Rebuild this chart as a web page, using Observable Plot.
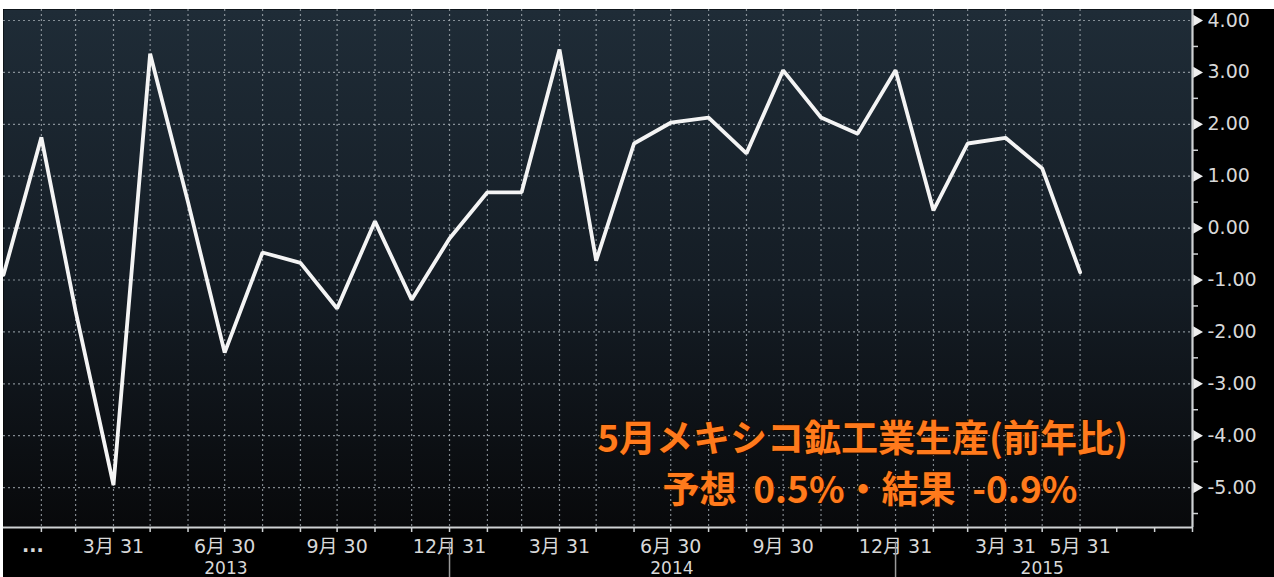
<!DOCTYPE html>
<html><head><meta charset="utf-8">
<script src="https://cdn.jsdelivr.net/npm/d3@7"></script>
<script src="https://cdn.jsdelivr.net/npm/@observablehq/plot@0.6"></script>
<style>
body{margin:0;background:#fff;width:1274px;height:577px;overflow:hidden;position:relative}
#wrap{position:absolute;left:3px;top:9px;width:1271px;height:568px;background:#000}
</style></head><body><div id="wrap"></div>
<script>
const months = ["2012-12-31","2013-01-31","2013-02-28","2013-03-31","2013-04-30","2013-05-31","2013-06-30","2013-07-31","2013-08-31","2013-09-30","2013-10-31","2013-11-30","2013-12-31","2014-01-31","2014-02-28","2014-03-31","2014-04-30","2014-05-31","2014-06-30","2014-07-31","2014-08-31","2014-09-30","2014-10-31","2014-11-30","2014-12-31","2015-01-31","2015-02-28","2015-03-31","2015-04-30","2015-05-31"];
const values = [-0.9, 1.75, -1.6, -4.95, 3.36, 0.5, -2.4, -0.47, -0.67, -1.55, 0.13, -1.38, -0.2, 0.69, 0.69, 3.44, -0.63, 1.63, 2.03, 2.13, 1.44, 3.04, 2.13, 1.82, 3.04, 0.34, 1.63, 1.74, 1.15, -0.85];
const yTicks = [4, 3, 2, 1, 0, -1, -2, -3, -4, -5];
const yMinorTicks = [3.5, 2.5, 1.5, 0.5, -0.5, -1.5, -2.5, -3.5, -4.5, -5.5];
const quarterTicks = ["2013-03-31","2013-06-30","2013-09-30","2013-12-31","2014-03-31","2014-06-30","2014-09-30","2014-12-31","2015-03-31","2015-05-31"];
const quarterLabels = ["3月 31","6月 30","9月 30","12月 31","3月 31","6月 30","9月 30","12月 31","3月 31","5月 31"];
const yearDates = ["2013-07-01","2014-07-01","2015-04-30"];
const yearLabels = ["2013","2014","2015"];
const yearDividers = ["2013-12-31","2014-12-31"];
const titleLines = ["5月メキシコ鉱工業生産(前年比)", "予想  0.5%・結果  -0.9%"];

const P = (s) => new Date(s + "T00:00:00Z");
const data = months.map((m, i) => ({date: P(m), value: values[i]}));
const xDomain = [P("2012-12-31"), P("2015-08-31")];
const monthEnds = d3.utcMonth.range(P("2013-02-01"), P("2015-09-02")).map(d => d3.utcDay.offset(d, -1));
const gridMonths = monthEnds.filter(d => d <= P("2015-05-31"));
const yDomain = [-5.75, 4.212];

const axisColor = "#cfd2d4";
const font = "'DejaVu Sans', 'Noto Sans CJK JP', sans-serif";
const titleStyle = {fill: "#ff7a1c", stroke: "#1a0a00", strokeWidth: 2, paintOrder: "stroke", fontSize: 37, fontWeight: 700, fontFamily: "'Noto Sans CJK JP', sans-serif"};

const svg = Plot.plot({
  width: 1271, height: 568,
  marginLeft: 0, marginRight: 82, marginTop: 0, marginBottom: 51,
  style: {background: "#000", color: axisColor, fontFamily: font, fontSize: "18px", overflow: "visible"},
  x: {type: "utc", domain: xDomain, axis: null},
  y: {domain: yDomain, axis: null},
  marks: [
    Plot.frame({fill: "url(#bg)", stroke: "none"}),
    Plot.gridY(yTicks, {stroke: "#a9b1b8", strokeOpacity: 0.75, strokeDasharray: "2,3", strokeWidth: 1.2}),
    Plot.gridX(gridMonths, {stroke: "#a9b1b8", strokeOpacity: 0.75, strokeDasharray: "2,3", strokeWidth: 1.2}),
    Plot.text([titleLines[0]], {x: () => P("2014-12-04"), y: () => -4.09, text: d => d, ...titleStyle, letterSpacing: "1.5px"}),
    Plot.text([titleLines[1]], {x: () => P("2014-12-10"), y: () => -5.06, text: d => d, ...titleStyle, letterSpacing: "4px"}),
    Plot.line(data, {x: "date", y: "value", stroke: "#f4f4f4", strokeWidth: 3.8, strokeLinejoin: "miter", clip: true}),
    Plot.ruleY([yDomain[0]], {stroke: axisColor, strokeWidth: 2.2, dy: 1, x1: xDomain[0], x2: xDomain[1]}),
    Plot.ruleX([xDomain[1]], {stroke: axisColor, strokeWidth: 2.2, y1: yDomain[0] - 0.02, y2: yDomain[1]}),
    Plot.axisX(monthEnds, {anchor: "bottom", tickSize: 5, tickFormat: () => "", label: null, stroke: axisColor, strokeWidth: 1.5, dy: 1}),
    Plot.text(quarterTicks, {x: d => P(d), frameAnchor: "bottom", dy: 20, text: (d, i) => quarterLabels[i], fill: "#d8d8d8", fontSize: 19, lineAnchor: "middle"}),
    Plot.text(["..."], {x: () => P("2013-01-24"), frameAnchor: "bottom", dy: 19, text: d => d, fill: "#d8d8d8", fontSize: 19, fontWeight: 700, lineAnchor: "middle"}),
    Plot.text(yearDates, {x: d => P(d), frameAnchor: "bottom", dy: 42, text: (d, i) => yearLabels[i], fill: "#d8d8d8", fontSize: 17, lineAnchor: "middle"}),
    Plot.ruleX(yearDividers, {x: d => P(d), y1: yDomain[0] - 0.3, y2: yDomain[0] - 1.2, stroke: "#9a9a9a", strokeWidth: 1.5}),
    Plot.axisY(yMinorTicks, {anchor: "right", tickSize: 5, tickFormat: () => "", label: null, stroke: axisColor, strokeWidth: 1.5}),
    Plot.dot(yTicks, {y: d => d, frameAnchor: "right", symbol: "triangle", r: 4.2, rotate: 90, dx: 4, fill: "#eeeeee", stroke: "none"}),
    Plot.axisY(yTicks, {anchor: "right", tickSize: 0, tickPadding: 15, tickFormat: d => d.toFixed(2), label: null, fill: "#d8d8d8", fontSize: 19})
  ]
});
const ns = "http://www.w3.org/2000/svg";
const defs = document.createElementNS(ns, "defs");
defs.innerHTML = '<linearGradient id="bg" x1="0" y1="0" x2="0" y2="1"><stop offset="0" stop-color="#1f2c37"/><stop offset="0.55" stop-color="#141c24"/><stop offset="1" stop-color="#08090b"/></linearGradient>';
svg.insertBefore(defs, svg.firstChild);
document.getElementById("wrap").appendChild(svg);
</script></body></html>
